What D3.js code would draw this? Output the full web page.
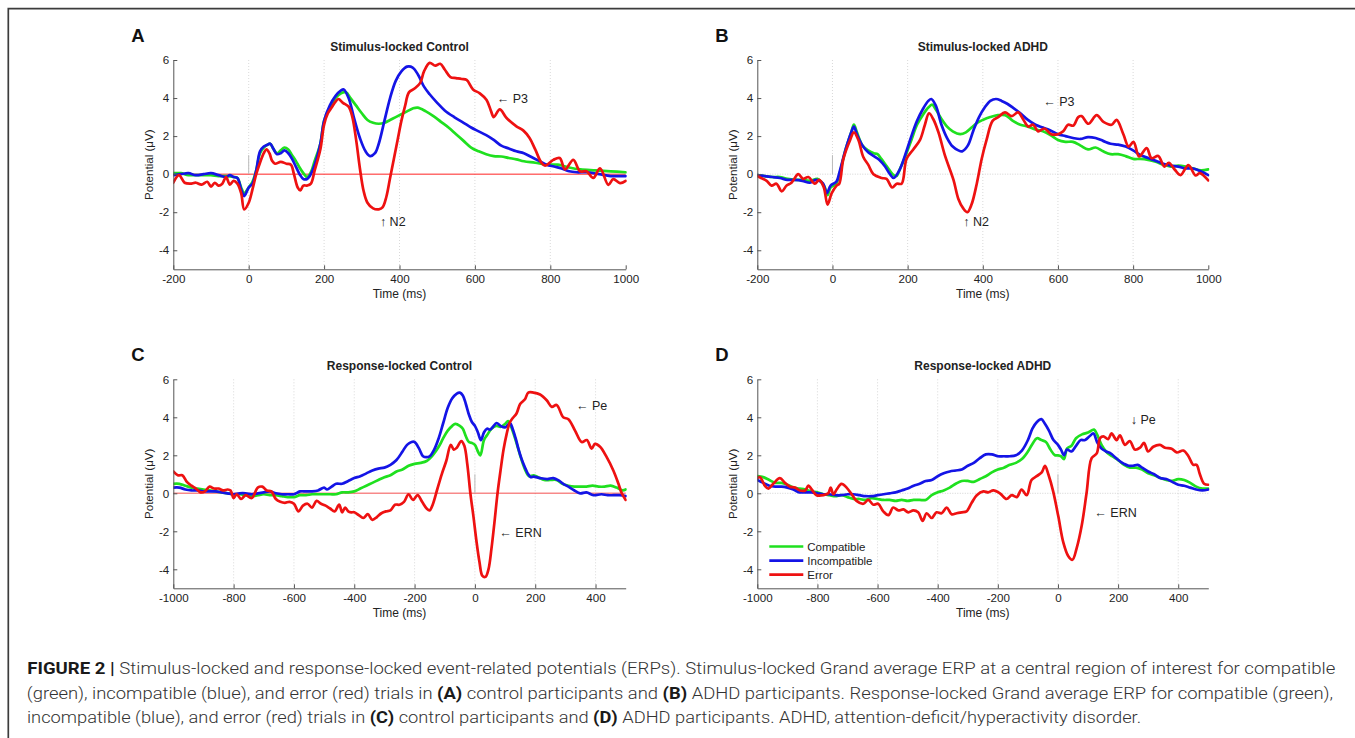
<!DOCTYPE html>
<html><head><meta charset="utf-8">
<script src="https://cdn.jsdelivr.net/npm/d3@7"></script>
<style>body{margin:0;background:#fff}svg{display:block}</style>
</head><body>
<svg id="c" width="1355" height="738"></svg>
<script>
// ---------------- DATA ----------------
const seriesNames = ["Compatible", "Incompatible", "Error"];
const stimTicks = [-200, 0, 200, 400, 600, 800, 1000];
const respTicks = [-1000, -800, -600, -400, -200, 0, 200, 400];
const yTicks = [-4, -2, 0, 2, 4, 6];
const panelTitles = ["Stimulus-locked Control", "Stimulus-locked ADHD", "Response-locked Control", "Response-locked ADHD"];
const panelLetters = ["A", "B", "C", "D"];

// Panel A: stimulus-locked, control  [time ms, potential µV]
const aCompatible = [[-200,0.05],[-180,0.05],[-160,-0.05],[-140,-0.05],[-120,-0.05],[-100,-0.05],[-80,-0.1],[-60,-0.1],[-40,-0.15],[-30,-0.2],[-20,-0.7],[-12,-1.0],[0,-0.7],[10,-0.4],[20,0.2],[30,1.1],[40,1.4],[50,1.55],[57,1.6],[65,1.35],[75,1.1],[85,1.25],[95,1.4],[105,1.3],[115,1.0],[125,0.7],[135,0.35],[145,0.05],[155,-0.15],[165,0.1],[175,0.7],[190,1.6],[200,2.8],[215,3.5],[230,4.0],[245,4.25],[258,4.3],[270,4.0],[285,3.6],[300,3.2],[315,2.85],[330,2.7],[345,2.65],[360,2.7],[375,2.85],[390,3.0],[405,3.15],[420,3.3],[435,3.45],[448,3.5],[470,3.3],[490,3.05],[510,2.75],[530,2.45],[550,2.1],[570,1.75],[590,1.4],[610,1.2],[630,1.05],[650,0.95],[670,0.93],[690,0.85],[710,0.78],[730,0.68],[760,0.6],[790,0.5],[820,0.5],[850,0.35],[880,0.25],[920,0.2],[960,0.15],[1000,0.1]];
const aIncompatible = [[-200,-0.05],[-180,0.0],[-160,0.05],[-140,-0.05],[-120,0.0],[-100,0.05],[-80,-0.05],[-60,-0.15],[-50,-0.05],[-40,-0.15],[-30,-0.2],[-20,-0.8],[-12,-1.15],[0,-0.7],[10,-0.5],[20,0.2],[30,1.2],[40,1.45],[50,1.55],[57,1.6],[65,1.35],[75,1.05],[85,1.1],[95,1.25],[105,1.1],[115,0.8],[125,0.4],[135,0.0],[145,-0.25],[155,-0.25],[162,-0.1],[175,0.5],[190,1.6],[200,2.8],[215,3.6],[230,4.1],[245,4.4],[252,4.45],[265,4.0],[280,2.9],[295,1.9],[310,1.2],[322,0.95],[335,1.1],[345,1.6],[360,2.8],[375,4.0],[390,4.9],[405,5.4],[420,5.65],[435,5.6],[450,5.2],[465,4.6],[480,4.2],[500,3.75],[520,3.35],[545,3.0],[570,2.7],[590,2.45],[610,2.25],[630,2.05],[650,1.8],[670,1.5],[690,1.35],[710,1.2],[730,1.1],[750,0.9],[770,0.7],[790,0.5],[810,0.4],[830,0.3],[850,0.15],[870,0.1],[900,0.1],[930,0.0],[960,-0.1],[980,-0.1],[1000,-0.1]];
const aError = [[-200,-0.45],[-185,-0.05],[-170,-0.45],[-155,-0.5],[-140,-0.45],[-125,-0.55],[-110,-0.4],[-100,-0.65],[-90,-0.45],[-80,-0.6],[-70,-0.5],[-60,-0.15],[-50,-0.55],[-40,-0.35],[-30,-0.5],[-20,-1.0],[-12,-1.85],[0,-1.5],[10,-0.8],[20,0.0],[30,0.6],[40,1.1],[47,1.3],[55,1.1],[62,0.7],[70,0.55],[85,0.65],[100,0.55],[112,0.5],[120,0.0],[130,-0.7],[137,-0.85],[145,-0.6],[155,-0.6],[165,-0.5],[175,0.2],[190,1.3],[200,2.6],[210,3.2],[220,3.5],[230,3.8],[238,3.95],[250,3.75],[265,3.55],[275,3.0],[285,1.8],[295,0.3],[305,-0.9],[315,-1.5],[330,-1.8],[345,-1.85],[355,-1.75],[365,-1.2],[375,-0.2],[385,0.8],[395,1.8],[405,2.8],[415,3.6],[425,4.3],[440,4.5],[455,4.8],[465,5.4],[480,5.85],[495,5.7],[508,5.8],[520,5.5],[535,5.1],[550,5.05],[565,5.0],[578,4.95],[595,4.45],[613,4.25],[631,3.9],[643,3.3],[650,3.0],[666,3.4],[684,2.95],[711,2.5],[728,2.3],[745,1.9],[760,1.3],[777,0.58],[786,0.45],[808,0.75],[825,0.85],[839,0.25],[861,0.75],[879,0.15],[896,0.15],[914,-0.2],[932,0.3],[954,-0.56],[967,-0.26],[985,-0.47],[1000,-0.35]];

// Panel B: stimulus-locked, ADHD
const bCompatible = [[-200,-0.05],[-180,-0.1],[-160,-0.15],[-140,-0.15],[-120,-0.25],[-100,-0.3],[-80,-0.3],[-60,-0.35],[-40,-0.25],[-30,-0.4],[-20,-0.7],[-13,-1.1],[-5,-0.7],[10,-0.5],[20,0.1],[35,1.3],[50,2.2],[57,2.6],[65,2.2],[80,1.5],[95,1.25],[110,1.1],[120,1.05],[130,0.8],[145,0.4],[160,0.0],[170,-0.1],[180,0.3],[195,1.0],[210,1.8],[225,2.6],[240,3.1],[255,3.5],[265,3.65],[275,3.4],[290,2.9],[305,2.5],[320,2.25],[340,2.1],[355,2.2],[370,2.45],[385,2.7],[400,2.85],[420,3.0],[440,3.1],[460,3.1],[480,2.8],[500,2.6],[520,2.5],[540,2.35],[560,2.25],[580,2.05],[600,1.8],[620,1.7],[640,1.7],[660,1.5],[680,1.3],[700,1.4],[720,1.2],[740,1.05],[760,1.05],[780,0.95],[800,0.8],[820,0.8],[840,0.75],[860,0.65],[880,0.5],[900,0.4],[920,0.45],[940,0.4],[960,0.3],[980,0.2],[1000,0.25]];
const bIncompatible = [[-200,-0.05],[-180,-0.1],[-160,-0.15],[-140,-0.2],[-120,-0.3],[-100,-0.3],[-80,-0.35],[-60,-0.45],[-45,-0.3],[-35,-0.35],[-25,-0.5],[-15,-1.0],[-5,-0.6],[10,-0.4],[20,0.2],[35,1.3],[50,2.2],[57,2.5],[65,2.1],[80,1.5],[95,1.15],[110,0.95],[125,0.75],[140,0.4],[153,0.0],[163,-0.2],[178,0.2],[195,1.1],[210,2.0],[225,2.8],[240,3.4],[255,3.85],[263,3.95],[275,3.6],[290,2.6],[305,1.9],[320,1.45],[335,1.25],[345,1.2],[360,1.5],[375,2.3],[390,3.0],[405,3.5],[420,3.85],[435,3.95],[450,3.85],[465,3.7],[480,3.5],[500,3.2],[520,2.85],[540,2.6],[560,2.45],[580,2.3],[600,2.1],[620,2.0],[640,1.9],[660,1.85],[680,1.95],[700,1.9],[720,1.75],[740,1.6],[760,1.55],[780,1.45],[800,1.25],[820,1.0],[840,0.85],[860,0.7],[880,0.55],[900,0.45],[920,0.4],[940,0.3],[960,0.3],[980,0.15],[1000,-0.05]];
const bError = [[-200,-0.1],[-190,-0.2],[-175,-0.35],[-162,-0.6],[-149,-0.5],[-135,-0.9],[-122,-0.6],[-109,-0.45],[-91,0.0],[-78,-0.25],[-64,-0.15],[-47,-0.5],[-35,-0.3],[-23,-0.7],[-13,-1.6],[-2,-1.0],[11,-0.6],[18,-0.5],[29,0.8],[47,1.8],[57,2.2],[69,1.8],[82,0.9],[95,0.5],[109,0.0],[131,-0.2],[144,-0.25],[159,-0.7],[171,-0.5],[184,-0.5],[197,0.8],[215,1.3],[233,1.8],[246,2.6],[257,3.2],[268,2.9],[282,2.2],[299,1.0],[322,-0.3],[335,-1.3],[348,-1.8],[359,-2.0],[370,-1.6],[384,-0.5],[397,0.8],[410,1.8],[426,2.8],[441,3.0],[459,3.25],[477,3.05],[494,3.25],[508,2.86],[521,2.5],[534,2.6],[547,2.25],[564,2.4],[582,2.1],[600,2.1],[614,2.25],[627,2.6],[641,2.55],[654,3.0],[663,3.05],[681,2.65],[703,3.1],[721,2.75],[743,2.6],[756,2.85],[774,2.1],[788,1.45],[801,1.7],[816,0.93],[836,1.37],[849,0.84],[867,0.96],[883,0.4],[895,0.6],[911,0.23],[926,-0.05],[947,0.47],[966,-0.07],[977,0.05],[1000,-0.33]];

// Panel C: response-locked, control
const cCompatible = [[-1000,0.5],[-980,0.5],[-960,0.4],[-940,0.3],[-920,0.25],[-900,0.2],[-880,0.15],[-860,0.1],[-840,0.05],[-820,0.0],[-800,-0.05],[-780,-0.05],[-760,-0.1],[-740,-0.15],[-720,-0.1],[-700,-0.05],[-680,-0.1],[-660,-0.1],[-640,-0.15],[-620,-0.2],[-600,-0.2],[-580,-0.1],[-560,-0.1],[-540,-0.05],[-520,-0.05],[-500,-0.05],[-480,-0.05],[-460,-0.05],[-440,0.05],[-420,0.05],[-400,0.1],[-380,0.25],[-360,0.4],[-340,0.55],[-320,0.7],[-300,0.85],[-280,0.95],[-260,1.15],[-240,1.25],[-220,1.45],[-200,1.55],[-180,1.6],[-160,1.7],[-140,2.0],[-120,2.45],[-105,2.9],[-90,3.3],[-75,3.55],[-65,3.65],[-50,3.55],[-40,3.4],[-30,3.0],[-20,2.7],[-10,2.65],[0,2.55],[10,2.2],[18,2.0],[30,2.8],[40,3.05],[55,3.4],[70,3.55],[85,3.5],[100,3.65],[110,3.8],[120,3.5],[135,2.8],[150,2.0],[165,1.3],[180,0.9],[195,0.95],[210,0.85],[230,0.7],[250,0.7],[270,0.7],[290,0.5],[310,0.4],[330,0.35],[350,0.35],[370,0.35],[390,0.4],[410,0.35],[430,0.35],[450,0.4],[470,0.3],[490,0.15],[500,0.2]];
const cIncompatible = [[-1000,0.3],[-980,0.3],[-960,0.2],[-940,0.15],[-920,0.15],[-900,0.1],[-880,0.1],[-860,0.1],[-840,0.05],[-820,0.0],[-800,-0.05],[-780,0.0],[-760,0.0],[-740,-0.05],[-720,0.0],[-700,0.05],[-680,0.1],[-660,0.0],[-640,-0.05],[-620,-0.05],[-600,-0.05],[-580,0.1],[-560,0.1],[-540,0.1],[-520,0.15],[-500,0.3],[-490,0.2],[-475,0.35],[-460,0.5],[-440,0.5],[-420,0.65],[-400,0.8],[-380,0.9],[-360,1.05],[-340,1.2],[-320,1.3],[-300,1.35],[-280,1.5],[-260,1.75],[-240,2.2],[-225,2.55],[-210,2.7],[-200,2.7],[-185,2.35],[-172,1.95],[-160,1.9],[-150,1.95],[-135,2.3],[-120,2.9],[-105,3.7],[-90,4.5],[-75,5.0],[-60,5.25],[-50,5.3],[-40,5.15],[-30,4.7],[-20,4.15],[-10,3.75],[0,3.55],[10,3.2],[20,2.8],[30,3.2],[40,3.4],[50,3.35],[60,3.5],[72,3.7],[85,3.55],[100,3.47],[116,3.7],[125,3.4],[135,2.9],[145,2.3],[155,1.8],[165,1.4],[175,1.05],[185,0.85],[194,0.88],[216,0.8],[240,0.75],[260,0.8],[280,0.65],[293,0.5],[310,0.35],[330,0.15],[349,0.0],[370,0.05],[393,-0.1],[420,-0.05],[440,-0.1],[460,-0.1],[480,-0.1],[500,-0.15]];
const cError = [[-1000,1.15],[-985,0.95],[-970,0.95],[-955,0.6],[-940,0.4],[-925,0.25],[-910,0.05],[-895,0.1],[-880,0.35],[-865,0.25],[-850,0.25],[-835,0.15],[-820,0.2],[-810,0.15],[-800,-0.25],[-790,-0.05],[-775,-0.3],[-760,-0.1],[-740,-0.25],[-720,0.3],[-705,0.35],[-690,0.15],[-675,0.1],[-660,-0.3],[-645,-0.45],[-630,-0.5],[-615,-0.45],[-600,-0.55],[-585,-0.95],[-570,-0.65],[-555,-0.55],[-540,-0.75],[-525,-0.4],[-510,-0.55],[-495,-0.65],[-480,-0.8],[-465,-0.95],[-450,-0.6],[-440,-1.0],[-430,-0.75],[-420,-0.95],[-410,-1.0],[-400,-1.0],[-385,-1.15],[-370,-1.3],[-355,-1.1],[-340,-1.4],[-325,-1.25],[-310,-1.05],[-295,-0.95],[-280,-0.9],[-265,-0.6],[-250,-0.6],[-235,-0.45],[-220,-0.05],[-205,-0.35],[-190,-0.1],[-175,-0.45],[-160,-0.8],[-150,-0.9],[-140,-0.6],[-125,0.2],[-110,1.0],[-95,1.7],[-80,2.55],[-70,2.3],[-60,2.4],[-45,2.75],[-35,2.5],[-25,1.5],[-15,0.0],[-5,-1.2],[5,-2.5],[15,-3.6],[25,-4.35],[35,-4.4],[45,-4.0],[55,-2.9],[65,-1.5],[75,0.0],[85,1.2],[95,2.3],[105,3.1],[115,3.7],[125,3.95],[138,4.2],[150,4.7],[166,4.95],[177,5.3],[194,5.3],[216,5.2],[238,4.9],[255,4.55],[271,4.65],[293,4.0],[310,3.9],[332,3.3],[354,2.7],[371,2.8],[387,2.35],[398,2.6],[415,2.45],[437,1.9],[459,1.2],[476,0.5],[487,0.0],[500,-0.35]];

// Panel D: response-locked, ADHD
const dCompatible = [[-1000,0.9],[-980,0.85],[-960,0.7],[-940,0.55],[-920,0.55],[-900,0.45],[-880,0.3],[-860,0.25],[-840,0.2],[-820,0.1],[-800,0.05],[-780,-0.05],[-760,-0.1],[-740,-0.15],[-720,-0.1],[-700,-0.2],[-680,-0.3],[-660,-0.3],[-640,-0.35],[-620,-0.25],[-600,-0.3],[-580,-0.35],[-560,-0.35],[-540,-0.4],[-520,-0.35],[-500,-0.4],[-480,-0.35],[-460,-0.35],[-440,-0.35],[-420,-0.1],[-400,0.05],[-380,0.15],[-360,0.3],[-340,0.5],[-320,0.65],[-300,0.65],[-280,0.6],[-260,0.75],[-240,0.9],[-220,1.1],[-200,1.25],[-180,1.35],[-160,1.5],[-140,1.6],[-120,1.8],[-100,2.2],[-85,2.6],[-70,2.9],[-55,2.8],[-40,2.7],[-25,2.3],[-10,2.0],[0,2.0],[10,1.95],[20,1.8],[30,2.35],[45,2.5],[60,2.9],[80,3.1],[100,3.2],[120,3.35],[130,3.1],[145,2.55],[160,2.2],[180,1.95],[200,1.75],[220,1.5],[240,1.35],[260,1.35],[280,1.25],[300,1.05],[320,0.95],[340,0.8],[360,0.7],[380,0.65],[400,0.75],[420,0.7],[440,0.55],[460,0.35],[480,0.25],[500,0.25]];
const dIncompatible = [[-1000,0.7],[-980,0.55],[-960,0.4],[-940,0.35],[-920,0.35],[-900,0.3],[-880,0.2],[-860,0.05],[-840,0.05],[-820,0.05],[-800,0.0],[-780,-0.05],[-760,-0.05],[-740,-0.1],[-720,-0.1],[-700,-0.05],[-680,-0.05],[-660,-0.1],[-640,-0.15],[-620,-0.15],[-600,-0.1],[-580,-0.05],[-560,0.0],[-540,0.05],[-520,0.15],[-500,0.25],[-480,0.4],[-460,0.5],[-440,0.65],[-420,0.7],[-400,0.9],[-380,1.05],[-360,1.15],[-340,1.2],[-320,1.25],[-300,1.45],[-280,1.6],[-260,1.85],[-240,2.05],[-220,2.05],[-200,1.95],[-180,1.95],[-160,1.95],[-140,2.0],[-120,2.25],[-100,2.8],[-85,3.4],[-70,3.75],[-55,3.9],[-45,3.7],[-30,3.3],[-15,2.8],[0,2.55],[10,2.3],[20,2.0],[30,2.3],[45,2.2],[60,2.5],[75,2.8],[90,2.8],[105,3.0],[118,3.15],[130,2.7],[145,2.35],[160,2.2],[175,2.1],[190,1.9],[205,1.7],[220,1.55],[235,1.45],[250,1.45],[265,1.5],[280,1.35],[300,1.15],[320,1.0],[340,0.8],[360,0.75],[380,0.6],[400,0.45],[420,0.4],[440,0.3],[460,0.2],[480,0.15],[500,0.2]];
const dError = [[-1000,0.8],[-991,0.85],[-975,0.4],[-963,0.25],[-947,0.5],[-925,0.8],[-908,0.55],[-891,0.35],[-875,0.3],[-858,0.15],[-841,0.15],[-830,0.4],[-819,0.2],[-803,-0.1],[-780,-0.1],[-764,0.0],[-756,0.3],[-747,-0.05],[-736,0.2],[-720,0.5],[-703,0.3],[-686,-0.05],[-670,-0.4],[-647,-0.55],[-631,-0.35],[-614,-0.6],[-598,-0.55],[-581,-0.95],[-564,-1.15],[-548,-0.75],[-531,-0.9],[-514,-0.85],[-498,-1.0],[-481,-0.9],[-465,-1.0],[-450,-1.45],[-437,-1.05],[-420,-1.3],[-404,-1.0],[-387,-1.05],[-370,-0.75],[-354,-1.1],[-337,-1.05],[-320,-1.0],[-304,-0.95],[-287,-0.5],[-270,-0.1],[-248,0.1],[-232,0.05],[-215,0.15],[-193,0.0],[-171,-0.3],[-154,-0.1],[-137,-0.2],[-121,0.2],[-104,-0.1],[-88,0.7],[-71,0.9],[-54,1.1],[-43,1.45],[-32,1.0],[-16,0.1],[1,-1.2],[18,-2.6],[34,-3.3],[48,-3.5],[62,-2.9],[79,-1.7],[95,0.0],[112,1.85],[129,2.1],[140,2.9],[151,3.0],[167,2.85],[178,3.15],[195,2.8],[206,3.05],[223,2.55],[239,2.75],[256,2.3],[273,2.4],[286,2.65],[300,2.2],[317,2.45],[339,2.55],[356,2.4],[378,2.35],[395,2.15],[417,2.25],[434,1.95],[450,1.5],[461,1.5],[472,1.0],[486,0.5],[500,0.45]];

// Peak annotations [label, time, potential]
const annA = [["\u2190 P3", 658, 3.95], ["\u2191 N2", 348, -2.5]];
const annB = [["\u2190 P3", 561, 3.8], ["\u2191 N2", 348, -2.5]];
const annC = [["\u2190 Pe", 335, 4.6], ["\u2190 ERN", 81, -2.05]];
const annD = [["\u2193 Pe", 242, 3.9], ["\u2190 ERN", 121, -1.04]];

const captionLines = [
  [["FIGURE 2 | ", true], ["Stimulus-locked and response-locked event-related potentials (ERPs). Stimulus-locked Grand average ERP at a central region of interest for compatible", false]],
  [["(green), incompatible (blue), and error (red) trials in ", false], ["(A)", true], [" control participants and ", false], ["(B)", true], [" ADHD participants. Response-locked Grand average ERP for compatible (green),", false]],
  [["incompatible (blue), and error (red) trials in ", false], ["(C)", true], [" control participants and ", false], ["(D)", true], [" ADHD participants. ADHD, attention-deficit/hyperactivity disorder.", false]]
];

// ---------------- DRAWING ----------------
const colors = ["#1fe01f", "#1414e6", "#ee1111"];
const FONT = "'Liberation Sans', Arial, Helvetica, sans-serif";
const svg = d3.select("#c");
svg.append("rect").attr("width", 1355).attr("height", 738).attr("fill", "#fff");
svg.append("path").attr("d", "M1355,8.6H8.3V738").attr("fill", "none")
  .attr("stroke", "#3c3c3c").attr("stroke-width", 1.7);

const panels = [
  {x0: 173.3, x1: 625.7, y0: 60, y1: 269.3, dom: [-200, 1000], ticks: stimTicks, data: [aCompatible, aIncompatible, aError], zero: "red", ann: annA},
  {x0: 757.3, x1: 1208.3, y0: 60, y1: 269.3, dom: [-200, 1000], ticks: stimTicks, data: [bCompatible, bIncompatible, bError], zero: "gray", ann: annB},
  {x0: 173.3, x1: 625.7, y0: 379.3, y1: 588.3, dom: [-1000, 500], ticks: respTicks, data: [cCompatible, cIncompatible, cError], zero: "pink", ann: annC},
  {x0: 757.3, x1: 1208.3, y0: 379.3, y1: 588.3, dom: [-1000, 500], ticks: respTicks, data: [dCompatible, dIncompatible, dError], zero: "gray", ann: annD, legend: true}
];

panels.forEach((p, i) => {
  const x = d3.scaleLinear().domain(p.dom).range([p.x0, p.x1]);
  const y = d3.scaleLinear().domain([-5, 6]).range([p.y1, p.y0]);
  const g = svg.append("g");

  // grid (dotted verticals at interior ticks)
  g.selectAll(".grid").data(p.ticks.filter(t => t > p.dom[0] && t < p.dom[1])).enter()
    .append("line").attr("x1", d => x(d)).attr("x2", d => x(d))
    .attr("y1", p.y0).attr("y2", p.y1)
    .attr("stroke", "#cfcfcf").attr("stroke-width", 0.8).attr("stroke-dasharray", "1,2");

  // zero line
  const zl = g.append("line").attr("x1", p.x0).attr("x2", p.x1).attr("y1", y(0)).attr("y2", y(0));
  if (p.zero === "red") zl.attr("stroke", "#f22").attr("stroke-width", 1);
  else if (p.zero === "pink") zl.attr("stroke", "rgba(240,40,40,0.55)").attr("stroke-width", 1.4);
  else zl.attr("stroke", "#c8c8c8").attr("stroke-width", 0.8).attr("stroke-dasharray", "1,1.5");

  // short onset marker
  g.append("line").attr("x1", x(0)).attr("x2", x(0)).attr("y1", y(0)).attr("y2", y(1))
    .attr("stroke", "#bbb").attr("stroke-width", 1);

  // clip
  svg.append("clipPath").attr("id", "clip" + i).append("rect")
    .attr("x", p.x0).attr("y", p.y0 - 2).attr("width", p.x1 - p.x0 + 1).attr("height", p.y1 - p.y0 + 2);

  const line = d3.line().x(d => x(d[0])).y(d => y(d[1])).curve(d3.curveCatmullRom.alpha(0.5));
  p.data.forEach((s, k) => {
    g.append("path").datum(s).attr("d", line).attr("fill", "none")
      .attr("stroke", colors[k]).attr("stroke-width", 2.7)
      .attr("stroke-linejoin", "round").attr("stroke-linecap", "round")
      .attr("clip-path", "url(#clip" + i + ")");
  });

  // axes
  const fmt = d => String(d);
  const xa = g.append("g").attr("transform", `translate(0,${p.y1})`)
    .call(d3.axisBottom(x).tickValues(p.ticks).tickFormat(fmt).tickSizeInner(-4).tickSizeOuter(0).tickPadding(5.5));
  const ya = g.append("g").attr("transform", `translate(${p.x0},0)`)
    .call(d3.axisLeft(y).tickValues(yTicks).tickFormat(fmt).tickSizeInner(-4).tickSizeOuter(0).tickPadding(4));
  [xa, ya].forEach(a => {
    a.select(".domain").attr("stroke", "#555").attr("stroke-width", 1);
    a.selectAll(".tick line").attr("stroke", "#555");
    a.selectAll("text").attr("font-family", FONT).attr("font-size", 11.6).attr("fill", "#222");
  });

  // labels
  const cx = (p.x0 + p.x1) / 2;
  g.append("text").attr("x", cx).attr("y", p.y0 - 9.3).attr("text-anchor", "middle")
    .attr("font-family", FONT).attr("font-weight", "bold").attr("font-size", 12).attr("fill", "#222")
    .text(panelTitles[i]);
  g.append("text").attr("x", p.x0 - 42).attr("y", p.y0 - 18).attr("font-family", FONT)
    .attr("font-weight", "bold").attr("font-size", 18.5).attr("fill", "#111").text(panelLetters[i]);
  g.append("text").attr("x", cx).attr("y", p.y1 + 29).attr("text-anchor", "middle")
    .attr("font-family", FONT).attr("font-size", 12).attr("fill", "#222").text("Time (ms)");
  g.append("text").attr("transform", `translate(${p.x0 - 24.5},${(p.y0 + p.y1) / 2}) rotate(-90)`)
    .attr("text-anchor", "middle").attr("dy", "0.35em")
    .attr("font-family", FONT).attr("font-size", 11.6).attr("fill", "#222").text("Potential (\u03bcV)");

  // annotations
  p.ann.forEach(a => {
    g.append("text").attr("x", x(a[1])).attr("y", y(a[2])).attr("dy", "0.35em")
      .attr("font-family", FONT).attr("font-size", 12.5).attr("fill", "#222").text(a[0]);
  });

  // legend
  if (p.legend) {
    seriesNames.forEach((n, k) => {
      const ly = p.y1 - 41.8 + k * 14.1;
      g.append("line").attr("x1", p.x0 + 12).attr("x2", p.x0 + 46).attr("y1", ly).attr("y2", ly)
        .attr("stroke", colors[k]).attr("stroke-width", 2.7);
      g.append("text").attr("x", p.x0 + 50).attr("y", ly).attr("dy", "0.35em")
        .attr("font-family", FONT).attr("font-size", 11.5).attr("fill", "#222").text(n);
    });
  }
});

// caption
const capSpec = [{x: 27.3, y: 674, x2: 1336}, {x: 26.8, y: 698.5, x2: 1334}, {x: 27, y: 723, x2: 1141.5}];
captionLines.forEach((ln, i) => {
  const t = svg.append("text").attr("font-family", "Roboto, 'Liberation Sans', sans-serif")
    .attr("font-size", 16.5).attr("fill", "#2b2b2b").attr("font-weight", 300)
    .style("white-space", "pre");
  ln.forEach(seg => {
    t.append("tspan").attr("font-weight", seg[1] ? 700 : 300).attr("fill", seg[1] ? "#1a1a1a" : "#333").text(seg[0]);
  });
  const w = t.node().getComputedTextLength();
  const target = capSpec[i].x2 - capSpec[i].x;
  t.attr("transform", `translate(${capSpec[i].x},${capSpec[i].y}) scale(${target / w},1)`);
});
</script>
</body></html>
